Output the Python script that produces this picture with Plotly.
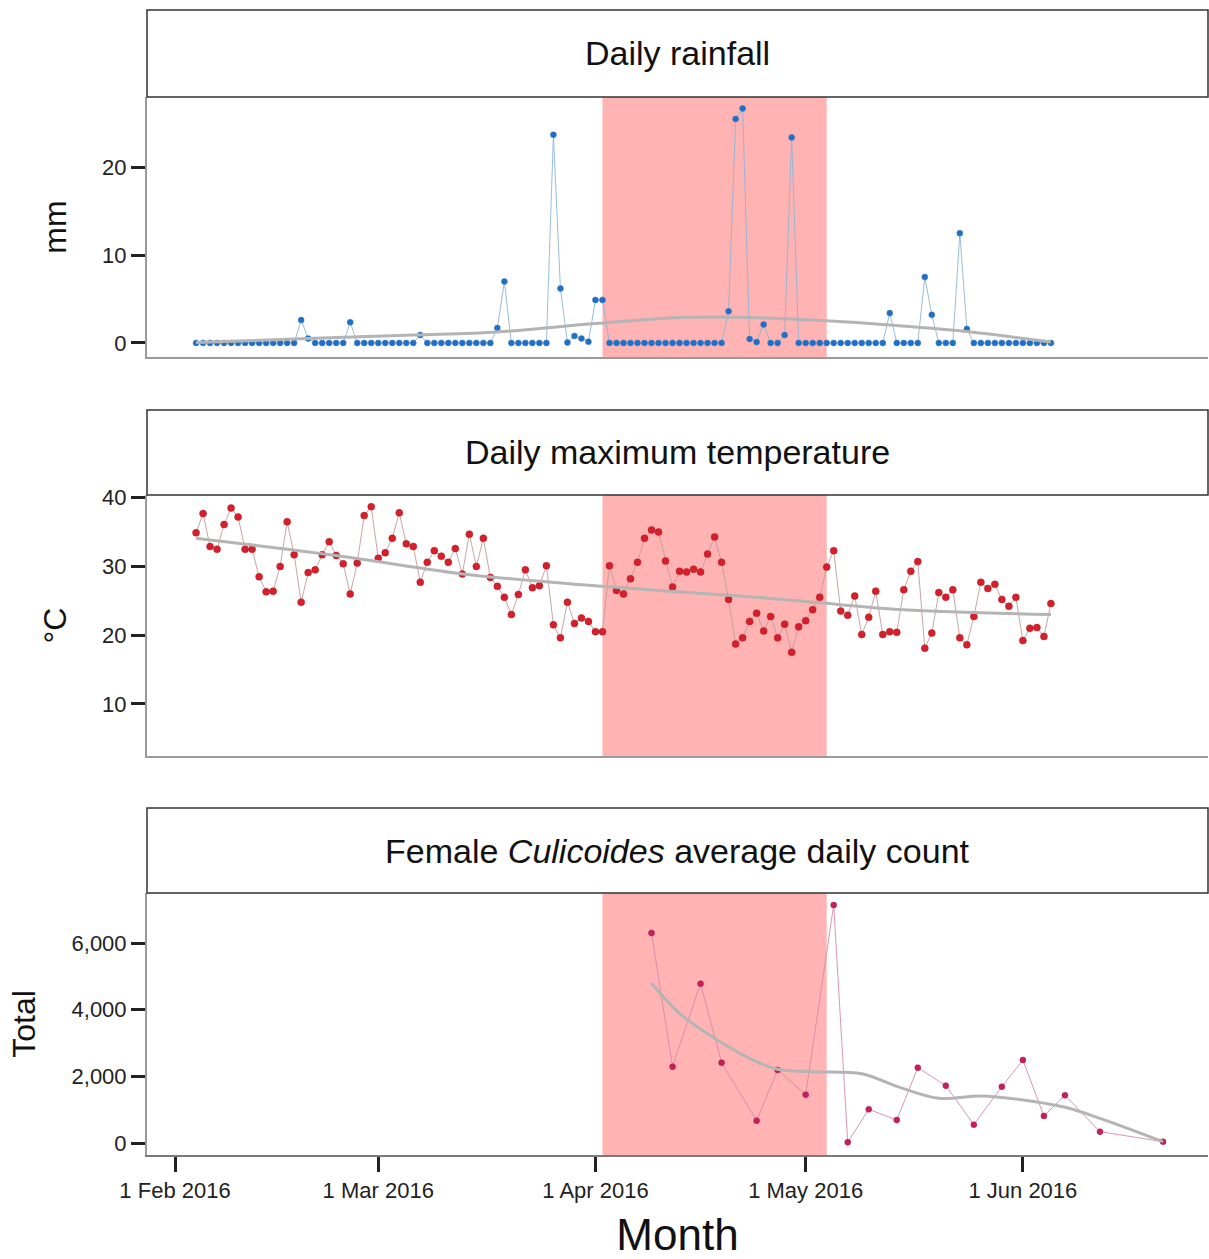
import plotly.graph_objects as go
import pandas as pd

# ---------------- data ----------------
day_start = "2016-02-04"
day_end = "2016-06-05"
days = pd.date_range(day_start, day_end, freq="D")

rain_mm = [
    0, 0, 0, 0, 0, 0, 0, 0, 0, 0, 0, 0, 0, 0, 0,
    2.6, 0.5,
    0, 0, 0, 0, 0,
    2.35,
    0, 0, 0, 0, 0, 0, 0, 0, 0,
    0.9,
    0, 0, 0, 0, 0, 0, 0, 0, 0, 0,
    1.7, 7.0,
    0, 0, 0, 0, 0, 0,
    23.7, 6.2, 0.05, 0.8, 0.5, 0.15, 4.9, 4.9,
    0, 0, 0, 0, 0, 0, 0, 0, 0, 0, 0, 0, 0, 0, 0, 0, 0,
    3.6, 25.5, 26.7, 0.45, 0.1, 2.1, 0, 0, 0.9, 23.4,
    0, 0, 0, 0, 0, 0, 0, 0, 0, 0, 0, 0, 0,
    3.4, 0, 0, 0, 0, 7.5, 3.2, 0, 0, 0, 12.5, 1.6,
    0, 0, 0, 0, 0, 0, 0, 0, 0, 0, 0, 0,
]

temp_max_c = [
    34.9, 37.7, 32.9, 32.5, 36.1, 38.5, 37.2, 32.5, 32.5, 28.5,
    26.3, 26.4, 30.0, 36.5, 31.7, 24.8, 29.1, 29.5, 31.7, 33.6,
    31.6, 30.4, 26.0, 30.5, 37.4, 38.7, 31.2, 32.0, 34.1, 37.8,
    33.3, 32.9, 27.7, 30.6, 32.3, 31.5, 30.6, 32.6, 28.9, 34.7,
    30.0, 34.1, 28.4, 27.1, 25.5, 23.0, 25.9, 29.5, 26.9, 27.2,
    30.1, 21.5, 19.6, 24.8, 21.7, 22.5, 22.0, 20.5, 20.5, 30.1,
    26.5, 26.0, 28.2, 30.6, 34.1, 35.3, 35.0, 30.8, 27.0, 29.3,
    29.2, 29.6, 29.2, 31.8, 34.3, 30.6, 25.2, 18.7, 19.6, 22.0,
    23.2, 20.6, 22.7, 19.6, 21.6, 17.5, 21.2, 22.1, 23.7, 25.5,
    29.9, 32.3, 23.5, 22.9, 25.7, 20.1, 22.6, 26.4, 20.1, 20.5,
    20.4, 26.6, 29.3, 30.7, 18.1, 20.3, 26.2, 25.5, 26.6, 19.6,
    18.6, 22.7, 27.7, 26.8, 27.4, 25.2, 24.2, 25.5, 19.2, 21.0,
    21.1, 19.8, 24.6,
]

count_dates = [
    "2016-04-09", "2016-04-12", "2016-04-16", "2016-04-19", "2016-04-24",
    "2016-04-27", "2016-05-01", "2016-05-05", "2016-05-07", "2016-05-10",
    "2016-05-14", "2016-05-17", "2016-05-21", "2016-05-25", "2016-05-29",
    "2016-06-01", "2016-06-04", "2016-06-07", "2016-06-12", "2016-06-21",
]
count_total = [
    6300, 2290, 4780, 2410, 670,
    2190, 1450, 7140, 20, 1010,
    690, 2260, 1720, 550, 1690,
    2490, 810, 1430, 340, 40,
]

rain_smooth_dates = ["2016-02-04", "2016-02-20", "2016-03-06", "2016-03-18", "2016-04-01",
                     "2016-04-13", "2016-04-23", "2016-05-02", "2016-05-12", "2016-05-24", "2016-06-05"]
rain_smooth = [0.05, 0.5, 0.9, 1.25, 2.2, 2.9, 2.9, 2.6, 2.1, 1.3, 0.1]

temp_smooth_dates = ["2016-02-04", "2016-02-24", "2016-03-14", "2016-04-02", "2016-04-23",
                     "2016-05-03", "2016-05-15", "2016-06-05"]
temp_smooth = [34.1, 31.6, 28.8, 27.1, 25.6, 24.7, 23.7, 23.0]

count_smooth_dates = ["2016-04-09", "2016-04-13", "2016-04-18", "2016-04-23", "2016-04-27",
                      "2016-05-02", "2016-05-09", "2016-05-14", "2016-05-20", "2016-05-26",
                      "2016-06-01", "2016-06-07", "2016-06-12", "2016-06-21"]
count_smooth = [4790, 3890, 3140, 2540, 2210, 2140, 2080, 1700, 1340, 1410, 1290, 1070, 740, 40]

shade_start = "2016-04-02"
shade_end = "2016-05-04"

month_ticks = ["2016-02-01", "2016-03-01", "2016-04-01", "2016-05-01", "2016-06-01"]
month_labels = ["1 Feb 2016", "1 Mar 2016", "1 Apr 2016", "1 May 2016", "1 Jun 2016"]
x_range = ["2016-01-28", "2016-06-27 10:00"]

panel_titles = ["Daily rainfall", "Daily maximum temperature",
                "Female <i>Culicoides</i> average daily count"]
y_titles = ["mm", "°C", "Total"]

# ---------------- layout geometry ----------------
W, H = 1209, 1259
ML, MR, MT, MB = 147, 1, 10, 104
PH = H - MT - MB


def py(y_px):
    return (H - MB - y_px) / PH


panels = [  # (plot top, plot bottom, strip top)
    (97, 357, 10),
    (495, 756, 410),
    (893, 1155, 808),
]

FONT = "Liberation Sans, Arial, sans-serif"
GREY_SMOOTH = "#b4b4b4"
AXIS_LINE = "#9a9a9a"
SHADE = "#ffb3b3"

fig = go.Figure()

# rainfall
fig.add_trace(go.Scatter(x=days, y=rain_mm, mode="lines+markers",
                         line=dict(color="#8fb4d6", width=0.9),
                         marker=dict(color="#1f6fc9", size=6,
                                     line=dict(color="#3a7cc0", width=0.5)),
                         xaxis="x", yaxis="y", showlegend=False))
fig.add_trace(go.Scatter(x=rain_smooth_dates, y=rain_smooth, mode="lines",
                         line=dict(color=GREY_SMOOTH, width=3, shape="spline"),
                         xaxis="x", yaxis="y", showlegend=False))
# temperature
fig.add_trace(go.Scatter(x=days, y=temp_max_c, mode="lines+markers",
                         line=dict(color="#c49a9a", width=0.9),
                         marker=dict(color="#d61f2b", size=7,
                                     line=dict(color="#b01822", width=0.5)),
                         xaxis="x2", yaxis="y2", showlegend=False))
fig.add_trace(go.Scatter(x=temp_smooth_dates, y=temp_smooth, mode="lines",
                         line=dict(color=GREY_SMOOTH, width=3, shape="spline"),
                         xaxis="x2", yaxis="y2", showlegend=False))
# counts
fig.add_trace(go.Scatter(x=count_dates, y=count_total, mode="lines+markers",
                         line=dict(color="#d58aa8", width=0.9),
                         marker=dict(color="#c81f5c", size=6,
                                     line=dict(color="#a31a4c", width=0.5)),
                         xaxis="x3", yaxis="y3", showlegend=False))
fig.add_trace(go.Scatter(x=count_smooth_dates, y=count_smooth, mode="lines",
                         line=dict(color=GREY_SMOOTH, width=3, shape="spline"),
                         xaxis="x3", yaxis="y3", showlegend=False))

shapes = []
annotations = []
y_ranges = [[-1.6, 28], [2.4, 40.4], [-360, 7500]]
y_ticks = [[0, 10, 20], [10, 20, 30, 40], [0, 2000, 4000, 6000]]

layout = dict(
    width=W, height=H,
    margin=dict(l=ML, r=MR, t=MT, b=MB),
    paper_bgcolor="white", plot_bgcolor="white",
    font=dict(family=FONT, color="#222222"),
    showlegend=False,
)

for i, (top, bot, stop) in enumerate(panels):
    n = "" if i == 0 else str(i + 1)
    xa = "xaxis" + n
    ya = "yaxis" + n
    last = i == 2
    layout[xa] = dict(
        domain=[0, 1], anchor="y" + n, range=x_range, type="date",
        showgrid=False, zeroline=False,
        showline=True, linecolor=AXIS_LINE if not last else "#7a7a7a", linewidth=2,
        ticks="outside" if last else "", showticklabels=last,
        tickvals=month_ticks, ticktext=month_labels,
        tickfont=dict(size=22, color="#222222"),
        ticklen=15, tickwidth=2.5, tickcolor="#222222",
    )
    if i > 0:
        layout[xa]["matches"] = "x"
    if last:
        layout[xa]["title"] = dict(text="Month", font=dict(size=44, color="#111111"), standoff=22)
    layout[ya] = dict(
        domain=[py(bot), py(top)], anchor="x" + n, range=y_ranges[i],
        showgrid=False, zeroline=False,
        showline=True, linecolor=AXIS_LINE, linewidth=2,
        ticks="outside", ticklen=14, tickwidth=2.5, tickcolor="#222222",
        tickvals=y_ticks[i], tickformat=",",
        tickfont=dict(size=22, color="#222222"),
        title=dict(text=y_titles[i], font=dict(size=32, color="#111111"), standoff=26),
    )
    # shaded period
    shapes.append(dict(type="rect", xref="x" + n, yref="y" + n + " domain",
                       x0=shade_start, x1=shade_end, y0=0, y1=1,
                       fillcolor=SHADE, line=dict(width=0), layer="below"))
    # strip
    shapes.append(dict(type="rect", xref="paper", yref="paper",
                       x0=0, x1=1.0, y0=py(top), y1=py(stop),
                       fillcolor="white", line=dict(color="#333333", width=1.5)))
    annotations.append(dict(text=panel_titles[i], xref="paper", yref="paper",
                            x=0.5, y=(py(top) + py(stop)) / 2, showarrow=False,
                            xanchor="center", yanchor="middle",
                            font=dict(size=34, color="#111111", family=FONT)))

layout["shapes"] = shapes
layout["annotations"] = annotations
fig.update_layout(**layout)

fig.write_html("out.html", config={"displayModeBar": False},
               post_script="document.body.style.margin='0px';")
